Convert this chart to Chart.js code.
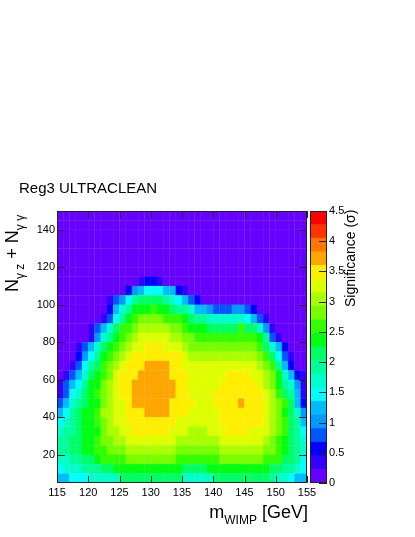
<!DOCTYPE html>
<html lang="en">
<head>
  <meta charset="UTF-8">
  <title>Reg3 ULTRACLEAN</title>
  <style>
    body { margin: 0; background: #fff; font-family: 'Liberation Sans', Arial, sans-serif; color: #000; }
    #wrap { position: relative; width: 415px; height: 537px; overflow: hidden; }
    canvas { position: absolute; top: 0; }
    #main { left: 0; }
    #bar { left: 300px; }
    .label { position: absolute; white-space: pre; }
    .label span { position: relative; font-size: 12px; }
    #xtitle { right: 107px; top: 502px; font-size: 18px; line-height: 20px; }
    #xtitle span { top: 5.5px; }
    #ytitle { left: 2px; top: 292px; font-size: 18px; line-height: 20px; transform-origin: 0 0; transform: rotate(-90deg); }
    #ytitle span { top: 5.5px; }
    #ztitle { left: 342px; top: 307px; font-size: 14px; line-height: 16px; transform-origin: 0 0; transform: rotate(-90deg); }
  </style>
  <script src="https://cdn.jsdelivr.net/npm/chart.js"></script>
</head>
<body>
  <div id="wrap">
    <canvas id="main" width="415" height="537"></canvas>
    <canvas id="bar" width="60" height="537"></canvas>
    <div class="label" id="xtitle">m<span>WIMP</span> [GeV]</div>
    <div class="label" id="ytitle">N<span>γ z</span> + N<span>γ γ</span></div>
    <div class="label" id="ztitle">Significance (σ)</div>
  </div>

  <script>
    // bin edges
    const massBins = [115,116,117,118,119,120,121,122,123,124,125,126,127,128,129,130,131,132,133,134,135,136,137,138,139,140,141,142,143,144,145,146,147,148,149,150,151,152,153,154];
    const nBins = [5,10,15,20,25,30,35,40,45,50,55,60,65,70,75,80,85,90,95,100,105,110,115,120,125,130,135,140,145,150];
    const xTicksStep = 5;
    const yTicksStep = 20;

    // significance per mass bin, one list per N bin (name = lower edge)
    const row_145 = [.1,.1,.1,.1,.1,.1,.1,.1,.1,.1,.1,.1,.1,.1,.1,.1,.1,.1,.1,.1,.1,.1,.1,.1,.1,.1,.1,.1,.1,.1,.1,.1,.1,.1,.1,.1,.1,.1,.1,.1];
    const row_140 = [.1,.1,.1,.1,.1,.1,.1,.1,.1,.1,.1,.1,.1,.1,.1,.1,.1,.1,.1,.1,.1,.1,.1,.1,.1,.1,.1,.1,.1,.1,.1,.1,.1,.1,.1,.1,.1,.1,.1,.1];
    const row_135 = [.1,.1,.1,.1,.1,.1,.1,.1,.1,.1,.1,.1,.1,.1,.1,.1,.1,.1,.1,.1,.1,.1,.1,.1,.1,.1,.1,.1,.1,.1,.1,.1,.1,.1,.1,.1,.1,.1,.1,.1];
    const row_130 = [.1,.1,.1,.1,.1,.1,.1,.1,.1,.1,.1,.1,.1,.1,.1,.1,.1,.1,.1,.1,.1,.1,.1,.1,.1,.1,.1,.1,.1,.1,.1,.1,.1,.1,.1,.1,.1,.1,.1,.1];
    const row_125 = [.1,.1,.1,.1,.1,.1,.1,.1,.1,.1,.1,.1,.1,.1,.1,.1,.1,.1,.1,.1,.1,.1,.1,.1,.1,.1,.1,.1,.1,.1,.1,.1,.1,.1,.1,.1,.1,.1,.1,.1];
    const row_120 = [.1,.1,.1,.1,.1,.1,.1,.1,.1,.1,.1,.1,.1,.1,.1,.1,.1,.1,.1,.1,.1,.1,.1,.1,.1,.1,.1,.1,.1,.1,.1,.1,.1,.1,.1,.1,.1,.1,.1,.1];
    const row_115 = [.1,.1,.1,.1,.1,.1,.1,.1,.1,.1,.1,.1,.1,.1,.1,.1,.1,.1,.1,.1,.1,.1,.1,.1,.1,.1,.1,.1,.1,.1,.1,.1,.1,.1,.1,.1,.1,.1,.1,.1];
    const row_110 = [.1,.1,.1,.1,.1,.1,.1,.1,.1,.1,.1,.1,.1,.3,.6,.6,.3,.1,.1,.1,.1,.1,.1,.1,.1,.1,.1,.1,.1,.1,.1,.1,.1,.1,.1,.1,.1,.1,.1,.1];
    const row_105 = [.1,.1,.1,.1,.1,.1,.1,.1,.1,.1,.1,.6,1.0,1.2,1.5,1.5,1.5,1.2,1.2,.6,.3,.1,.1,.1,.1,.1,.1,.1,.1,.1,.1,.1,.1,.1,.1,.1,.1,.1,.1,.1];
    const row_100 = [.1,.1,.1,.1,.1,.1,.1,.1,.3,.8,1.0,1.5,1.9,2.1,2.1,2.1,2.1,1.9,1.7,1.5,1.2,.8,.6,.1,.1,.1,.1,.1,.1,.1,.1,.1,.1,.1,.1,.1,.1,.1,.1,.1];
    const row_95 = [.1,.1,.1,.1,.1,.1,.1,.1,.6,1.2,1.7,1.9,2.4,2.4,2.4,2.6,2.4,2.4,2.1,1.9,1.9,1.7,1.2,1.2,1.0,.8,.8,.8,1.0,1.0,.8,.6,.1,.1,.1,.1,.1,.1,.1,.1];
    const row_90 = [.1,.1,.1,.1,.1,.1,.1,.3,.8,1.5,1.9,2.4,2.6,2.8,2.8,2.8,2.8,2.6,2.6,2.6,2.4,2.1,1.9,1.9,1.7,1.7,1.7,1.7,1.7,1.7,1.5,1.2,.8,.3,.1,.1,.1,.1,.1,.1];
    const row_85 = [.1,.1,.1,.1,.1,.3,.8,1.2,1.7,2.1,2.6,2.6,2.8,3.0,3.0,3.0,3.0,3.0,2.8,2.8,2.6,2.4,2.4,2.4,2.1,2.1,2.1,2.1,2.1,2.6,2.1,2.1,1.7,1.0,.3,.1,.1,.1,.1,.1];
    const row_80 = [.1,.1,.1,.1,.1,.3,1.0,1.7,1.9,2.4,2.6,2.8,3.0,3.3,3.3,3.3,3.3,3.3,3.0,3.0,2.8,2.8,2.6,2.6,2.6,2.6,2.6,2.6,2.6,2.6,2.6,2.6,2.4,1.9,.8,.3,.1,.1,.1,.1];
    const row_75 = [.1,.1,.1,.3,.8,1.2,1.7,2.1,2.4,2.6,2.8,3.0,3.3,3.3,3.5,3.5,3.5,3.3,3.3,3.3,3.0,2.8,2.8,2.8,2.8,2.8,2.8,2.8,2.8,2.8,2.8,2.8,2.6,2.1,1.7,1.2,.6,.1,.1,.1];
    const row_70 = [.1,.1,.1,.6,1.0,1.5,1.9,2.4,2.6,2.8,3.0,3.3,3.5,3.5,3.5,3.5,3.5,3.5,3.5,3.5,3.3,3.0,3.0,3.0,3.0,3.0,3.0,3.0,3.0,3.0,3.0,3.0,2.8,2.6,2.1,1.5,.8,.3,.1,.1];
    const row_65 = [.1,.1,.3,.8,1.5,1.9,2.1,2.6,2.8,3.0,3.3,3.5,3.5,3.5,3.7,3.7,3.7,3.7,3.5,3.5,3.3,3.3,3.3,3.3,3.3,3.3,3.3,3.3,3.3,3.3,3.3,3.3,3.0,2.8,2.6,1.9,1.2,.6,.1,.1];
    const row_60 = [.1,.3,.8,1.2,1.7,2.1,2.4,2.6,2.8,3.3,3.5,3.5,3.5,3.7,3.7,3.7,3.7,3.7,3.5,3.5,3.5,3.3,3.3,3.3,3.3,3.3,3.3,3.5,3.5,3.5,3.5,3.3,3.3,3.0,2.8,2.4,1.7,1.2,.6,.3];
    const row_55 = [.3,.8,1.2,1.5,1.9,2.4,2.4,2.8,3.0,3.3,3.5,3.5,3.7,3.7,3.7,3.7,3.7,3.7,3.7,3.5,3.5,3.3,3.3,3.3,3.3,3.3,3.5,3.5,3.5,3.5,3.5,3.5,3.3,3.0,2.8,2.4,1.9,1.7,1.0,.3];
    const row_50 = [.3,.8,1.5,1.7,2.1,2.4,2.6,2.8,3.0,3.3,3.5,3.5,3.7,3.7,3.7,3.7,3.7,3.7,3.7,3.5,3.5,3.3,3.3,3.3,3.3,3.5,3.5,3.5,3.5,3.5,3.5,3.5,3.5,3.3,3.0,2.6,2.1,1.9,1.2,.3];
    const row_45 = [.8,1.2,1.7,1.9,2.1,2.4,2.4,2.8,3.0,3.3,3.3,3.5,3.7,3.7,3.7,3.7,3.7,3.7,3.5,3.5,3.5,3.5,3.3,3.3,3.3,3.5,3.5,3.5,3.5,3.7,3.5,3.5,3.5,3.3,3.0,2.8,2.6,2.1,1.2,.6];
    const row_40 = [1.2,1.5,1.9,2.1,2.4,2.4,2.6,3.0,3.0,3.3,3.3,3.5,3.5,3.5,3.7,3.7,3.7,3.7,3.5,3.5,3.5,3.3,3.3,3.3,3.3,3.3,3.5,3.5,3.5,3.5,3.5,3.5,3.5,3.3,3.0,2.8,2.4,2.1,1.7,1.0];
    const row_35 = [1.5,1.7,1.9,2.1,2.4,2.4,2.6,2.8,3.0,3.3,3.3,3.5,3.5,3.5,3.5,3.5,3.5,3.5,3.5,3.3,3.3,3.3,3.3,3.3,3.3,3.3,3.5,3.5,3.5,3.5,3.5,3.5,3.5,3.3,3.0,2.8,2.6,2.1,1.9,1.2];
    const row_30 = [1.7,1.9,1.9,2.1,2.4,2.4,2.4,2.8,3.0,3.0,3.3,3.3,3.5,3.5,3.5,3.5,3.5,3.5,3.3,3.3,3.3,3.0,3.0,3.0,3.3,3.3,3.3,3.5,3.5,3.5,3.5,3.3,3.3,3.3,3.0,2.8,2.6,2.1,1.9,1.5];
    const row_25 = [1.9,1.9,2.1,2.1,2.4,2.4,2.6,2.8,2.8,3.0,3.0,3.3,3.3,3.3,3.3,3.3,3.3,3.3,3.3,3.0,3.0,3.0,3.0,3.0,3.0,3.0,3.3,3.3,3.3,3.3,3.3,3.3,3.3,3.0,2.8,2.6,2.4,2.1,1.9,1.7];
    const row_20 = [1.9,1.9,2.1,2.1,2.4,2.4,2.6,2.6,2.8,2.8,2.8,3.0,3.0,3.0,3.0,3.0,3.0,3.0,3.0,2.8,2.8,2.8,2.8,2.8,2.8,2.8,3.0,3.0,3.0,3.0,3.0,3.0,3.0,2.8,2.8,2.6,2.4,2.1,1.9,1.7];
    const row_15 = [1.7,1.7,1.9,1.9,2.1,2.1,2.4,2.6,2.6,2.6,2.6,2.8,2.8,2.8,2.8,2.8,2.8,2.8,2.8,2.6,2.6,2.6,2.6,2.6,2.6,2.6,2.8,2.8,2.8,2.8,2.8,2.8,2.8,2.6,2.6,2.6,2.1,2.1,1.9,1.5];
    const row_10 = [1.5,1.7,1.7,1.7,1.9,1.9,1.9,2.1,2.1,2.4,2.4,2.4,2.4,2.4,2.4,2.4,2.4,2.4,2.4,2.4,2.1,2.1,2.1,2.1,2.4,2.4,2.4,2.4,2.4,2.4,2.4,2.4,2.4,2.4,2.1,2.1,1.9,1.9,1.7,1.5];
    const row_5 = [1.2,1.2,1.5,1.5,1.5,1.7,1.7,1.7,1.7,1.7,2.1,2.1,2.1,2.1,2.1,2.1,2.1,2.1,2.1,2.1,1.7,1.7,1.7,1.7,1.7,2.1,2.1,2.1,2.1,2.1,2.1,2.1,2.1,2.1,1.9,1.7,1.7,1.5,1.2,1.2];

    const rows = [row_5,row_10,row_15,row_20,row_25,row_30,row_35,row_40,row_45,row_50,row_55,row_60,row_65,row_70,row_75,row_80,row_85,row_90,row_95,row_100,row_105,row_110,row_115,row_120,row_125,row_130,row_135,row_140,row_145];

    // z palette
    const zEdges = [0,.225,.45,.675,.9,1.125,1.35,1.575,1.8,2.025,2.25,2.475,2.7,2.925,3.15,3.375,3.6,3.825,4.05,4.275,4.5];
    const zColors = ['#6600ff','#3300ff','#0000ff','#0055ff','#0099ff','#00bbff','#00ffff','#00ffcc','#00ff99','#00ff66','#00ff11','#33ff00','#77ff00','#aaff00','#ddff00','#ffee00','#ffa500','#ff7700','#ff3300','#ff0000'];

    function colorOf(v) {
      let k = zEdges.findIndex(e => e > v) - 1;
      return zColors[k];
    }

    const fontTick = { family: "'Liberation Sans', Arial, sans-serif", size: 11 };

    // ROOT style: frame plus inward ticks on the sides listed
    const rootFrame = {
      id: 'rootFrame',
      afterDatasetsDraw(chart, args, opts) {
        const { ctx, chartArea: a, scales } = chart;
        ctx.save();
        ctx.strokeStyle = '#222';
        ctx.lineWidth = 1;
        ctx.beginPath();
        if (scales.x.options.display) {
          scales.x.ticks.forEach(t => {
            const px = Math.round(scales.x.getPixelForValue(t.value)) + 0.5;
            ctx.moveTo(px, a.bottom); ctx.lineTo(px, a.bottom - 7);
            ctx.moveTo(px, a.top); ctx.lineTo(px, a.top + 7);
          });
        }
        scales.y.ticks.forEach(t => {
          const py = Math.round(scales.y.getPixelForValue(t.value)) + 0.5;
          if (opts.left) { ctx.moveTo(a.left, py); ctx.lineTo(a.left + 8, py); }
          ctx.moveTo(a.right, py); ctx.lineTo(a.right - 8, py);
        });
        ctx.rect(a.left + 0.5, a.top + 0.5, a.right - a.left - 1, a.bottom - a.top - 1);
        ctx.stroke();
        ctx.restore();
      }
    };

    new Chart(document.getElementById('main'), {
      type: 'bar',
      data: {
        datasets: rows.map((row, j) => ({
          data: row.map((v, i) => ({ x: massBins[i] + 0.5, y: [nBins[j], nBins[j + 1]] })),
          backgroundColor: row.map(colorOf),
          grouped: false,
          barPercentage: 1,
          categoryPercentage: 1,
          borderWidth: 0,
          inflateAmount: 0.15
        }))
      },
      options: {
        responsive: false,
        animation: false,
        layout: { padding: { left: 19, right: 108, bottom: 0, top: 0 } },
        scales: {
          x: {
            type: 'linear', offset: false, min: 115, max: 155,
            grid: { display: false, drawTicks: false },
            border: { display: false },
            afterFit(scale) { scale.height = 54; },
            ticks: { stepSize: xTicksStep, autoSkip: false, maxRotation: 0, padding: 3, color: '#000', font: fontTick }
          },
          y: {
            type: 'linear', min: 5, max: 150,
            grid: { display: false, drawTicks: false },
            border: { display: false },
            afterFit(scale) { scale.width = 38; },
            ticks: { stepSize: yTicksStep, includeBounds: false, autoSkip: false, padding: 2, color: '#000', font: fontTick }
          }
        },
        plugins: {
          legend: { display: false },
          tooltip: { enabled: false },
          rootFrame: { left: true },
          title: {
            display: true, text: 'Reg3 ULTRACLEAN', align: 'start', color: '#000',
            font: { family: "'Liberation Sans', Arial, sans-serif", size: 15, weight: 'normal', lineHeight: 1.2 },
            padding: { top: 180, bottom: 13 }
          }
        }
      },
      plugins: [rootFrame]
    });

    new Chart(document.getElementById('bar'), {
      type: 'bar',
      data: {
        labels: ['z'],
        datasets: zColors.map((c, k) => ({
          data: [[zEdges[k], zEdges[k + 1]]],
          backgroundColor: c,
          grouped: false,
          barPercentage: 1,
          categoryPercentage: 1,
          borderWidth: 0
        }))
      },
      options: {
        responsive: false,
        animation: false,
        layout: { padding: { left: 10, right: 0, top: 211, bottom: 54 } },
        scales: {
          x: { display: false },
          y: {
            position: 'right', min: 0, max: 4.5,
            grid: { display: false, drawTicks: false },
            border: { display: false },
            afterFit(scale) { scale.width = 33; },
            ticks: { stepSize: 0.5, autoSkip: false, padding: 2, color: '#000', font: fontTick, callback: v => String(v) }
          }
        },
        plugins: { legend: { display: false }, tooltip: { enabled: false }, rootFrame: { left: false } }
      },
      plugins: [rootFrame]
    });
  </script>
</body>
</html>
